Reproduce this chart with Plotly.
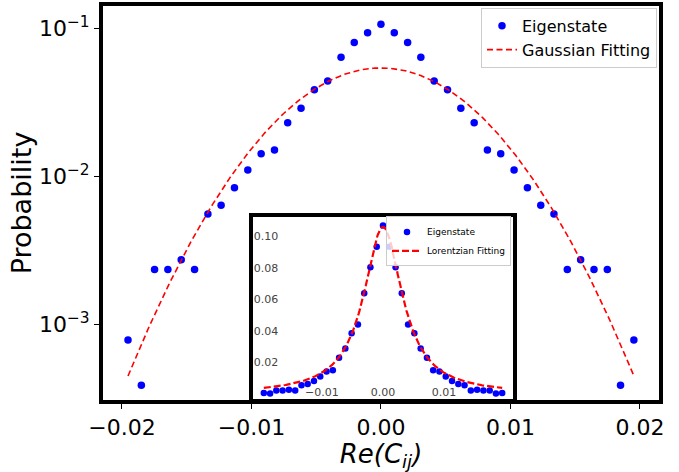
import numpy as np
import plotly.graph_objects as go

# Histogram of Re(C_ij): bin centres and normalised probabilities
re_c = [-0.01953, -0.0185, -0.01748, -0.01645, -0.01542, -0.01439, -0.01336, -0.01234,
        -0.01131, -0.01028, -0.00925, -0.00822, -0.0072, -0.00617, -0.00514, -0.00411,
        -0.00308, -0.00206, -0.00103, 0.0, 0.00103, 0.00206, 0.00308, 0.00411, 0.00514,
        0.00617, 0.0072, 0.00822, 0.00925, 0.01028, 0.01131, 0.01234, 0.01336, 0.01439,
        0.01542, 0.01645, 0.01748, 0.0185, 0.01953]
prob = [0.00079, 0.00039, 0.00236, 0.00236, 0.00275, 0.00236, 0.0056, 0.0064,
        0.0084, 0.0111, 0.0143, 0.0151, 0.0231, 0.029, 0.0386, 0.0442,
        0.064, 0.0805, 0.0935, 0.107, 0.0935, 0.0805, 0.064, 0.0442, 0.0386,
        0.029, 0.0231, 0.0151, 0.0143, 0.0111, 0.0084, 0.0064, 0.0056, 0.00236,
        0.00275, 0.00236, 0.00236, 0.00039, 0.00079]

# Fit parameters
gauss_amp, gauss_sigma = 0.0542, 0.00631
lor_amp, lor_gamma = 0.106, 0.00384

x_fit = np.linspace(min(re_c), max(re_c), 300)
gauss_fit = gauss_amp * np.exp(-x_fit**2 / (2 * gauss_sigma**2))
lor_fit = lor_amp * lor_gamma**2 / (x_fit**2 + lor_gamma**2)

main_xticks = [-0.02, -0.01, 0.0, 0.01, 0.02]
main_xtext = ["\u22120.02", "\u22120.01", "0.00", "0.01", "0.02"]
main_yticks = [0.001, 0.01, 0.1]
main_ytext = ["10<sup>\u22123</sup>", "10<sup>\u22122</sup>", "10<sup>\u22121</sup>"]
inset_xticks = [-0.01, 0.0, 0.01]
inset_xtext = ["\u22120.01", "0.00", "0.01"]
inset_yticks = [0.02, 0.04, 0.06, 0.08, 0.10]
inset_ytext = ["0.02", "0.04", "0.06", "0.08", "0.10"]

FONT = "DejaVu Sans"
BLUE = "#0000ff"
RED = "#ff0000"

fig = go.Figure()

# Main panel (log scale)
fig.add_trace(go.Scatter(x=re_c, y=prob, mode="markers", name="Eigenstate",
                         marker=dict(color=BLUE, size=7.5), legend="legend"))
fig.add_trace(go.Scatter(x=x_fit, y=gauss_fit, mode="lines", name="Gaussian Fitting",
                         line=dict(color=RED, width=1.6, dash="6px,3.5px"), legend="legend"))

# Inset panel (linear scale)
fig.add_trace(go.Scatter(x=re_c, y=prob, mode="markers", name="Eigenstate",
                         marker=dict(color=BLUE, size=6.5), xaxis="x2", yaxis="y2",
                         legend="legend2"))
fig.add_trace(go.Scatter(x=x_fit, y=lor_fit, mode="lines", name="Lorentzian Fitting",
                         line=dict(color=RED, width=2.2, dash="7px,3px"),
                         xaxis="x2", yaxis="y2", legend="legend2"))

frame = dict(showline=True, linecolor="black", linewidth=4, mirror=True,
             showgrid=False, zeroline=False)

fig.update_layout(
    width=679, height=472,
    margin=dict(l=103, r=20, t=2, b=67),
    paper_bgcolor="white", plot_bgcolor="white",
    font=dict(family=FONT, color="black"),
    xaxis=dict(range=[-0.02146, 0.02147], tickvals=main_xticks, ticktext=main_xtext,
               ticks="outside", ticklen=5, tickwidth=1, tickcolor="black",
               tickfont=dict(size=22, family=FONT),
               title=dict(text="<i>Re(C<sub>ij</sub>)</i>", font=dict(size=26, family=FONT),
                          standoff=11),
               **frame),
    yaxis=dict(type="log", range=[-3.508, -0.848], tickvals=main_yticks, ticktext=main_ytext,
               ticks="outside", ticklen=5, tickwidth=1, tickcolor="black",
               tickfont=dict(size=22, family=FONT),
               title=dict(text="Probability", font=dict(size=27, family=FONT), standoff=0),
               **frame),
    xaxis2=dict(domain=[0.2698, 0.7374], anchor="y2", range=[-0.0213, 0.0213],
                tickvals=inset_xticks, ticktext=inset_xtext, ticks="",
                ticklabelposition="inside", ticklabeloverflow="allow",
                tickfont=dict(size=11, family=FONT), **frame),
    yaxis2=dict(domain=[0.0037, 0.464], anchor="x2", range=[-0.0028, 0.1122],
                tickvals=inset_yticks, ticktext=inset_ytext, ticks="",
                ticklabelposition="inside", ticklabeloverflow="allow",
                tickfont=dict(size=11, family=FONT), **frame),
    legend=dict(x=0.9964, y=0.995, xanchor="right", yanchor="top",
                bgcolor="rgba(255,255,255,0.8)", bordercolor="#cccccc", borderwidth=1,
                font=dict(size=16, family=FONT), tracegroupgap=0),
    legend2=dict(x=0.7338, y=0.466, xanchor="right", yanchor="top",
                 bgcolor="rgba(255,255,255,0.8)", bordercolor="#cccccc", borderwidth=1,
                 font=dict(size=9, family=FONT), tracegroupgap=0),
    showlegend=True,
)

fig.write_html("out.html")
